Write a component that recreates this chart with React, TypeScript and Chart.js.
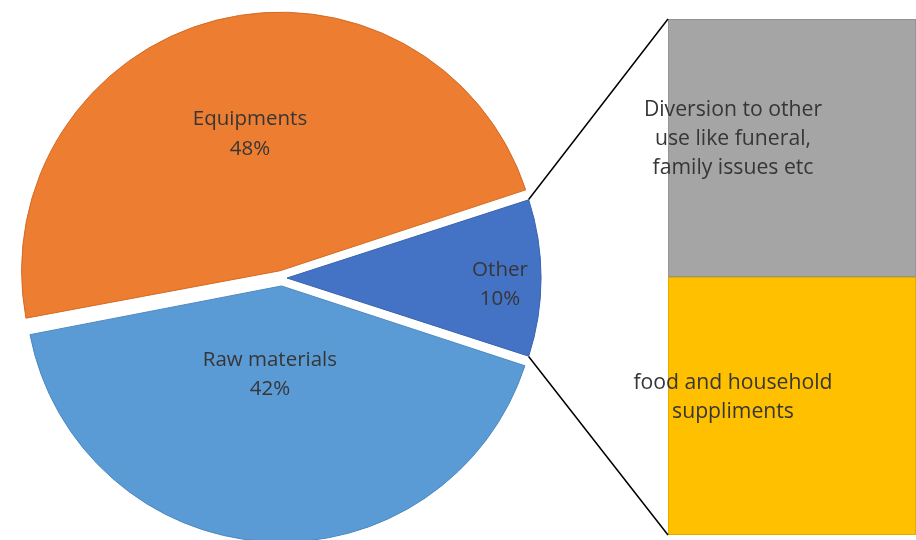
import React, { useEffect, useRef } from 'react';
import { Chart, registerables } from 'chart.js';

Chart.register(...registerables);

// ---- Data ----
const pieLabels = ['Other', 'Raw materials', 'Equipments'];
const pieValues = [10, 42, 48];

const barLabels: string[][] = [
  ['food and household', 'suppliments'],
  ['Diversion to other', 'use like funeral,', 'family issues etc'],
];
const barValues = [5, 5];

// ---- Styles ----
const pieColors = ['#4472C4', '#5B9BD5', '#ED7D31'];
const pieBorderColors = ['#3A63AD', '#4C88BF', '#D36A22'];
const pieOffsets = [20, 32, 30];
const barColors = ['#FFC000', '#A5A5A5'];
const barBorderColors = ['#D9A400', '#8E8E8E'];

// label block centres, relative to pie centre, as fractions of the radius
const pieLabelPlacement = [
  [0.865, 0.02],
  [-0.048, 0.377],
  [-0.127, -0.577],
];
// label block centre inside each bar segment (fraction of segment height from top)
const barLabelPlacement = [0.462, 0.461];
const barLabelShift = 65;

const PIE_FONT = '20.5px "Open Sans"';
const BAR_FONT = '21.2px "Open Sans"';
const TEXT_COLOR = '#363636';

function drawLines(
  ctx: CanvasRenderingContext2D,
  lines: string[],
  cx: number,
  cy: number,
  font: string,
  lineH: number,
  capH: number
) {
  ctx.save();
  ctx.font = font;
  ctx.fillStyle = TEXT_COLOR;
  ctx.textAlign = 'center';
  ctx.textBaseline = 'alphabetic';
  const n = lines.length;
  lines.forEach((t, i) => {
    const y = cy + (i - (n - 1) / 2) * lineH + capH / 2;
    ctx.fillText(t, cx, y);
  });
  ctx.restore();
}

export default function App() {
  const barRef = useRef<HTMLCanvasElement>(null);
  const pieRef = useRef<HTMLCanvasElement>(null);

  useEffect(() => {
    document.body.style.margin = '0';
    const barLabelPlugin = {
      id: 'barLabels',
      afterDatasetsDraw(chart: any) {
        const ctx = chart.ctx;
        barValues.forEach((_, i) => {
          const el: any = chart.getDatasetMeta(i).data[0];
          const top = Math.min(el.y, el.base);
          const bottom = Math.max(el.y, el.base);
          const left = el.x - el.width / 2;
          drawLines(
            ctx,
            barLabels[i],
            left + barLabelShift,
            top + barLabelPlacement[i] * (bottom - top),
            BAR_FONT,
            29,
            15
          );
        });
      },
    };

    const barChart = new Chart(barRef.current!, {
      type: 'bar',
      data: {
        labels: ['Other'],
        datasets: barValues.map((v, i) => ({
          label: barLabels[i].join(' '),
          data: [v],
          backgroundColor: barColors[i],
          borderColor: barBorderColors[i],
          borderWidth: 1,
          borderSkipped: false,
          barPercentage: 1,
          categoryPercentage: 1,
        })),
      },
      options: {
        responsive: false,
        animation: false,
        events: [],
        layout: { padding: { left: 668, right: -2, top: 19, bottom: 5 } },
        scales: {
          x: { stacked: true, display: false },
          y: { stacked: true, display: false, min: 0, max: barValues.reduce((a, b) => a + b, 0) },
        },
        plugins: { legend: { display: false }, tooltip: { enabled: false } },
      },
      plugins: [barLabelPlugin],
    } as any);

    const total = pieValues.reduce((a, b) => a + b, 0);
    const pieExtras = {
      id: 'pieExtras',
      afterDatasetsDraw(chart: any) {
        const ctx = chart.ctx;
        const meta = chart.getDatasetMeta(0);
        // labels
        meta.data.forEach((arc: any, i: number) => {
          const R = arc.outerRadius;
          const [fx, fy] = pieLabelPlacement[i];
          const pct = Math.round((pieValues[i] / total) * 100) + '%';
          drawLines(ctx, [pieLabels[i], pct], arc.x + fx * R, arc.y + fy * R, PIE_FONT, 29.5, 14.6);
        });
        // connectors from "Other" slice to the bar
        const arc: any = meta.data[0];
        const off = (arc.options.offset || 0) / 4;
        const mid = (arc.startAngle + arc.endAngle) / 2;
        const tx = Math.cos(mid) * off;
        const ty = Math.sin(mid) * off;
        const circ = arc.endAngle - arc.startAngle;
        const fix = 1 - Math.sin(Math.min(Math.PI, circ));
        const r = arc.outerRadius + off * fix;
        const p1 = [arc.x + tx + r * Math.cos(arc.startAngle), arc.y + ty + r * Math.sin(arc.startAngle)];
        const p2 = [arc.x + tx + r * Math.cos(arc.endAngle), arc.y + ty + r * Math.sin(arc.endAngle)];
        const bTop: any = barChart.getDatasetMeta(barValues.length - 1).data[0];
        const bBot: any = barChart.getDatasetMeta(0).data[0];
        const left = bTop.x - bTop.width / 2;
        ctx.save();
        ctx.strokeStyle = '#000000';
        ctx.lineWidth = 1.5;
        ctx.beginPath();
        ctx.moveTo(p1[0], p1[1]);
        ctx.lineTo(left, Math.min(bTop.y, bTop.base));
        ctx.moveTo(p2[0], p2[1]);
        ctx.lineTo(left, Math.max(bBot.y, bBot.base));
        ctx.stroke();
        ctx.restore();
      },
    };

    const pieChart = new Chart(pieRef.current!, {
      type: 'pie',
      data: {
        labels: pieLabels,
        datasets: [
          {
            data: pieValues,
            backgroundColor: pieColors,
            borderColor: pieBorderColors,
            borderWidth: 1,
            offset: pieOffsets,
            hoverOffset: 0,
            rotation: 72,
            radius: 252,
          },
        ],
      },
      options: {
        responsive: false,
        animation: false,
        events: [],
        rotation: 72,
        radius: 252,
        layout: { padding: { left: 0, right: 352, top: 16, bottom: 0 } },
        plugins: { legend: { display: false }, tooltip: { enabled: false } },
      },
      plugins: [pieExtras],
    } as any);

    return () => {
      pieChart.destroy();
      barChart.destroy();
    };
  }, []);

  return (
    <div style={{ position: 'relative', width: 916, height: 540, overflow: 'hidden', background: '#ffffff' }}>
      <canvas ref={barRef} width={916} height={540} style={{ position: 'absolute', left: 0, top: 0 }} />
      <canvas ref={pieRef} width={916} height={540} style={{ position: 'absolute', left: 0, top: 0 }} />
    </div>
  );
}
